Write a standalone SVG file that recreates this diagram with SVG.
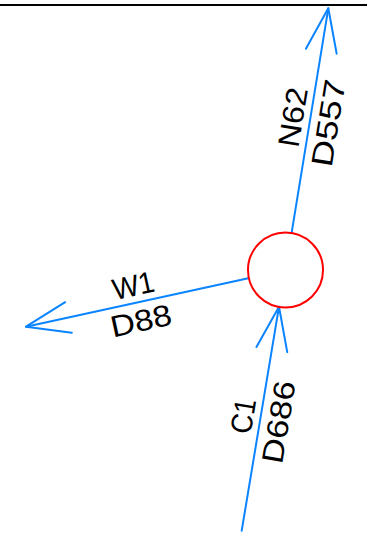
<svg xmlns="http://www.w3.org/2000/svg" width="367" height="540" viewBox="0 0 367 540">
  <style>
    .conn { fill: none; stroke: #0A84FF; stroke-width: 2; stroke-linecap: round; marker-end: url(#openArrow); }
    .lbl { font-family: "Liberation Sans", "DejaVu Sans", sans-serif; font-size: 30px; fill: #000; text-anchor: middle; }
  </style>
  <defs>
    <marker id="openArrow" markerUnits="userSpaceOnUse" orient="auto" refX="0" refY="0" markerWidth="60" markerHeight="60" viewBox="-50 -25 60 50" overflow="visible">
      <path d="M-43.5,-15.6 L0,0 L-43.5,15.6" fill="none" stroke="#0A84FF" stroke-width="2" stroke-linecap="round" stroke-linejoin="round"/>
    </marker>
  </defs>
  <rect width="367" height="540" fill="#fff"/>
  <line x1="0" y1="5" x2="367" y2="5" stroke="#000" stroke-width="2"/>
  <g id="connectors">
    <path id="edge-N62" class="conn" d="M291.7,232.3 L328.3,8.3"/>
    <path id="edge-W1" class="conn" d="M248.3,278.3 L26,326.7"/>
    <path id="edge-C1" class="conn" d="M241.7,530.7 L279,306.7"/>
  </g>
  <g id="node-junction">
    <circle cx="285.5" cy="270" r="37.5" fill="none" stroke="#FF0000" stroke-width="2"/>
  </g>
  <g id="label-N62" transform="translate(310,120) rotate(-80.72)">
    <text class="lbl" x="0" y="-7" textLength="60" lengthAdjust="spacingAndGlyphs">N62</text>
    <text class="lbl" x="0" y="29" textLength="88" lengthAdjust="spacingAndGlyphs">D557</text>
  </g>
  <g id="label-W1" transform="translate(137,302.5) rotate(-12.28)">
    <text class="lbl" x="0" y="-7" textLength="42" lengthAdjust="spacingAndGlyphs">W1</text>
    <text class="lbl" x="0" y="29" textLength="62" lengthAdjust="spacingAndGlyphs">D88</text>
  </g>
  <g id="label-C1" transform="translate(260.3,419) rotate(-80.55)">
    <text class="lbl" x="0" y="-7" textLength="35" lengthAdjust="spacingAndGlyphs">C1</text>
    <text class="lbl" x="0" y="29" textLength="83" lengthAdjust="spacingAndGlyphs">D686</text>
  </g>
</svg>
